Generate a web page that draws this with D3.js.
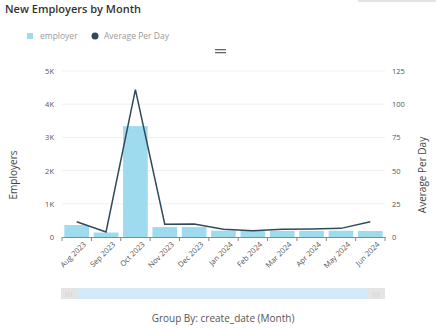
<!DOCTYPE html>
<html><head><meta charset="utf-8">
<script src="https://cdn.jsdelivr.net/npm/d3@7"></script>
<style>body{margin:0;background:#fff;}svg{display:block;font-family:"Open Sans",sans-serif;}</style>
</head><body><svg id="c" width="436" height="329"></svg>
<script>
const months = ["Aug 2023","Sep 2023","Oct 2023","Nov 2023","Dec 2023","Jan 2024","Feb 2024","Mar 2024","Apr 2024","May 2024","Jun 2024"];
const employers = [360, 135, 3340, 300, 300, 190, 180, 185, 185, 190, 180];
const avgPerDay = [11.5, 3.8, 111, 9.6, 9.7, 5.8, 4.7, 5.8, 6, 6.5, 11.5];
const leftTicks = [0, 1000, 2000, 3000, 4000, 5000];
const leftTickLabels = ["0", "1K", "2K", "3K", "4K", "5K"];
const rightTicks = [0, 25, 50, 75, 100, 125];

const svg = d3.select("#c");
const L = 62, R = 385, T = 71, B = 237;
const x = d3.scaleBand().domain(months).range([L, R]).paddingInner(0.16).paddingOuter(0.08);
const xs = d3.scaleBand().domain(months).range([L, R]);
const yL = d3.scaleLinear().domain([0, 5000]).range([B, T]);
const yR = d3.scaleLinear().domain([0, 125]).range([B, T]);

// title
svg.append("text").attr("x", 5).attr("y", 13).attr("font-size", 11).attr("font-weight", 600).attr("fill", "#333").text("New Employers by Month");
// corner shadow
svg.append("rect").attr("x", 358).attr("y", 0).attr("width", 78).attr("height", 2).attr("fill", "#e4e4e4");

// legend
svg.append("rect").attr("x", 27).attr("y", 33).attr("width", 6).attr("height", 6).attr("fill", "#9fdbee");
svg.append("text").attr("x", 40).attr("y", 39).attr("font-size", 8.5).attr("fill", "#9a9a9a").text("employer");
svg.append("circle").attr("cx", 95).attr("cy", 36).attr("r", 3.5).attr("fill", "#2f4b5b");
svg.append("text").attr("x", 104).attr("y", 39).attr("font-size", 8.5).attr("fill", "#9a9a9a").text("Average Per Day");
// drag handle
svg.append("rect").attr("x", 215).attr("y", 49).attr("width", 11).attr("height", 1.3).attr("fill", "#666");
svg.append("rect").attr("x", 215).attr("y", 52).attr("width", 11).attr("height", 1.3).attr("fill", "#666");

// gridlines
svg.append("g").selectAll("line").data(leftTicks.slice(1)).join("line")
  .attr("x1", L).attr("x2", R).attr("y1", d => yL(d)).attr("y2", d => yL(d))
  .attr("stroke", "#efefef").attr("stroke-width", 1);

// left axis
const gl = svg.append("g").attr("transform", `translate(${L},0)`)
  .call(d3.axisLeft(yL).tickValues(leftTicks).tickFormat((d, i) => leftTickLabels[i]).tickSize(0).tickPadding(8));
gl.select(".domain").remove();
gl.selectAll("text").attr("font-size", 7.5).attr("fill", "#555").attr("font-family", "Open Sans");

// right axis
const gr = svg.append("g").attr("transform", `translate(${R},0)`)
  .call(d3.axisRight(yR).tickValues(rightTicks).tickSize(0).tickPadding(7));
gr.select(".domain").remove();
gr.selectAll("text").attr("font-size", 7.5).attr("fill", "#555").attr("font-family", "Open Sans");

// bars
svg.append("g").selectAll("rect").data(months).join("rect")
  .attr("x", d => x(d)).attr("width", x.bandwidth())
  .attr("y", (d, i) => yL(employers[i])).attr("height", (d, i) => B - yL(employers[i]))
  .attr("fill", "#9fdbee");

// line
const line = d3.line().x((d, i) => xs(months[i]) + xs.bandwidth() / 2).y(d => yR(d));
svg.append("path").datum(avgPerDay).attr("d", line).attr("fill", "none").attr("stroke", "#2f4b5b").attr("stroke-width", 1.5);

// x axis
const gx = svg.append("g").attr("transform", `translate(0,${B})`)
  .call(d3.axisBottom(xs).tickSize(0).tickPadding(6));
gx.select(".domain").attr("stroke", "#888");
gx.selectAll(".tick text").attr("font-size", 7.5).attr("fill", "#555").attr("font-family", "Open Sans")
  .attr("text-anchor", "end").attr("transform", "translate(4,0) rotate(-45)").attr("dy", "0.5em").attr("dx", "-0.2em");
svg.append("g").selectAll("line").data(d3.range(months.length + 1)).join("line")
  .attr("x1", i => L + i * xs.step()).attr("x2", i => L + i * xs.step())
  .attr("y1", B).attr("y2", B + 4).attr("stroke", "#888");

// axis titles
svg.append("text").attr("transform", "translate(17,175) rotate(-90)").attr("text-anchor", "middle")
  .attr("font-size", 10).attr("fill", "#444").text("Employers");
svg.append("text").attr("transform", "translate(426,175) rotate(-90)").attr("text-anchor", "middle")
  .attr("font-size", 10).attr("fill", "#444").text("Average Per Day");

// scrollbar
svg.append("rect").attr("x", 61).attr("y", 288).attr("width", 324).attr("height", 11).attr("fill", "#d4ebf7");
svg.append("rect").attr("x", 61).attr("y", 288).attr("width", 17).attr("height", 11).attr("fill", "#e4e4e4");
svg.append("rect").attr("x", 368).attr("y", 288).attr("width", 17).attr("height", 11).attr("fill", "#e4e4e4");
svg.append("text").attr("x", 69).attr("y", 295.5).attr("font-size", 5).attr("fill", "#bbb").attr("text-anchor", "middle").text("|||");
svg.append("text").attr("x", 376).attr("y", 295.5).attr("font-size", 5).attr("fill", "#bbb").attr("text-anchor", "middle").text("|||");

svg.append("text").attr("x", 223).attr("y", 322).attr("text-anchor", "middle").attr("font-size", 10).attr("fill", "#555")
  .text("Group By: create_date (Month)");
</script></body></html>
